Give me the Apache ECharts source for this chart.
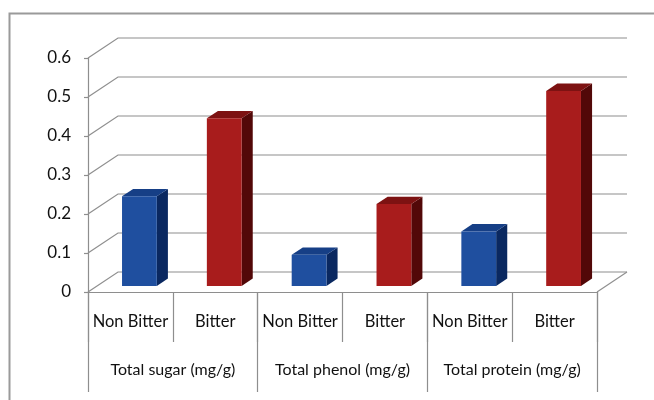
<!DOCTYPE html>
<html>
<head>
<meta charset="utf-8">
<script src="https://cdn.jsdelivr.net/npm/echarts@6/dist/echarts.min.js"></script>
<style>
  html, body { margin: 0; padding: 0; background: #fff; }
  #chart { width: 654px; height: 400px; }
</style>
</head>
<body>
<div id="chart"></div>
<script>
// Sub-categories along the floor and the measures they belong to
const categories = ['Non Bitter', 'Bitter', 'Non Bitter', 'Bitter', 'Non Bitter', 'Bitter'];
const groups = ['Total sugar (mg/g)', 'Total phenol (mg/g)', 'Total protein (mg/g)'];

// Measured values (mg/g) per measure
const nonBitter = [0.23, 0.08, 0.14];
const bitter = [0.43, 0.21, 0.50];

// Value-axis ticks
const yTicks = [0, 0.1, 0.2, 0.3, 0.4, 0.5, 0.6];

// Oblique projection of the depth axis
const DX = 30, DY = -20;
const DEPTH_FRONT = 0.3, DEPTH_BACK = 0.67;
const BAR_WIDTH = 0.41;
const GRID_COLOR = '#8e8e8e';
const FONT = 'Lato';
const TEXT_COLOR = '#111';

const nonBitterData = nonBitter.map((v, i) => [i * 2, v]);
const bitterData = bitter.map((v, i) => [i * 2 + 1, v]);
const tickData = yTicks.map(v => [0, v]);

// Back wall and floor lines
function renderGrid(params, api) {
  const cs = params.coordSys;
  const v = api.value(1);
  const y = api.coord([0, v])[1];
  const x0 = cs.x, x1 = cs.x + cs.width;
  const style = { stroke: GRID_COLOR, lineWidth: 1.2, fill: null };
  const children = [{
    type: 'polyline',
    shape: { points: [[x0, y], [x0 + DX, y + DY], [x1 + DX, y + DY]] },
    style
  }];
  if (v === 0) {
    children.push({
      type: 'line',
      shape: { x1: x1, y1: y, x2: x1 + DX, y2: y + DY },
      style
    });
  }
  return { type: 'group', children };
}

// Box-shaped bar sitting on the floor
function makeBarRenderer(front, top, side) {
  return function (params, api) {
    const idx = api.value(0);
    const val = api.value(1);
    const base = api.coord([idx, 0]);
    const peak = api.coord([idx, val]);
    const band = api.size([1, 0])[0];
    const w = band * BAR_WIDTH;
    const fx = DX * DEPTH_FRONT, fy = DY * DEPTH_FRONT;
    const bx = DX * DEPTH_BACK, by = DY * DEPTH_BACK;
    const L = base[0] - w / 2 + fx, R = base[0] + w / 2 + fx;
    const B = base[1] + fy, T = peak[1] + fy;
    const ddx = bx - fx, ddy = by - fy;
    return {
      type: 'group',
      children: [
        { type: 'polygon', shape: { points: [[R, B], [R + ddx, B + ddy], [R + ddx, T + ddy], [R, T]] },
          style: { fill: side } },
        { type: 'polygon', shape: { points: [[L, T], [L + ddx, T + ddy], [R + ddx, T + ddy], [R, T]] },
          style: { fill: top } },
        { type: 'rect', shape: { x: L, y: T, width: R - L, height: B - T },
          style: { fill: front } }
      ]
    };
  };
}

const chart = echarts.init(document.getElementById('chart'), null, { renderer: 'canvas' });

chart.setOption({
  animation: false,
  backgroundColor: '#fff',
  graphic: [{
    type: 'polyline',
    shape: { points: [[9.5, 400], [9.5, 13.5], [654, 13.5]] },
    style: { stroke: '#9a9a9a', lineWidth: 2, fill: null },
    silent: true
  }],
  grid: { left: 88, right: 57, top: 58, bottom: 108, containLabel: false },
  xAxis: [{
    type: 'category',
    data: categories,
    position: 'bottom',
    boundaryGap: true,
    axisLine: { show: true, lineStyle: { color: GRID_COLOR, width: 1.2 } },
    axisTick: { show: true, interval: 0, length: 50, lineStyle: { color: GRID_COLOR, width: 1.2 } },
    axisLabel: { interval: 0, margin: 30, verticalAlign: 'middle', color: TEXT_COLOR, fontSize: 16.5, fontFamily: FONT },
    splitLine: { show: false }
  }, {
    type: 'category',
    data: groups,
    position: 'bottom',
    boundaryGap: true,
    axisLine: { show: false },
    axisTick: { show: true, interval: 0, length: 100, lineStyle: { color: GRID_COLOR, width: 1.2 } },
    axisLabel: { interval: 0, margin: 78, verticalAlign: 'middle', color: TEXT_COLOR, fontSize: 16, fontFamily: FONT },
    splitLine: { show: false }
  }],
  yAxis: {
    type: 'value',
    min: 0,
    max: 0.6,
    interval: 0.1,
    axisLine: { show: true, lineStyle: { color: GRID_COLOR, width: 1.2 } },
    axisTick: { show: true, length: 4, lineStyle: { color: GRID_COLOR, width: 1.2 } },
    axisLabel: { margin: 17, color: TEXT_COLOR, fontSize: 17, fontFamily: FONT },
    splitLine: { show: false }
  },
  series: [{
    type: 'custom',
    name: 'walls',
    xAxisIndex: 0,
    renderItem: renderGrid,
    data: tickData,
    clip: false,
    silent: true,
    z: 1
  }, {
    type: 'custom',
    name: 'Non Bitter',
    xAxisIndex: 0,
    renderItem: makeBarRenderer('#1f4f9f', '#163f86', '#0a2860'),
    data: nonBitterData,
    clip: false,
    z: 3
  }, {
    type: 'custom',
    name: 'Bitter',
    xAxisIndex: 0,
    renderItem: makeBarRenderer('#a81c1c', '#7d1212', '#520808'),
    data: bitterData,
    clip: false,
    z: 3
  }]
});
</script>
</body>
</html>
